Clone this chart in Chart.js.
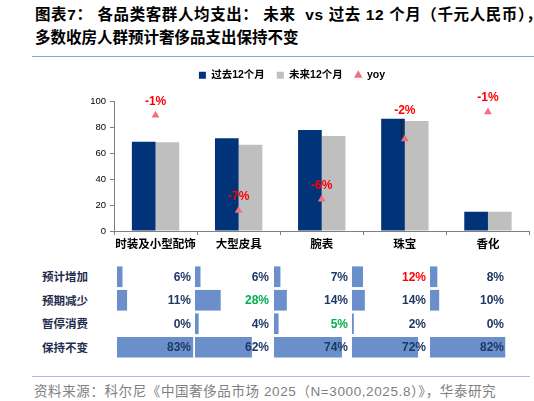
<!DOCTYPE html>
<html>
<head>
<meta charset="utf-8">
<script src="https://cdn.jsdelivr.net/npm/chart.js@4/dist/chart.umd.min.js"></script>
<style>
  html, body { margin: 0; padding: 0; background: #fff; }
  #page { position: relative; width: 534px; height: 401px; overflow: hidden; font-family: "Liberation Sans", "Noto Sans CJK SC", sans-serif; }
  .title { position: absolute; left: 35px; top: 3px; font-size: 15.5px; font-weight: bold; line-height: 23px; color: #000; white-space: nowrap; }
  .title .l1 { letter-spacing: 0.6px; }
  .rule { position: absolute; height: 1px; }
  #main-wrap { position: absolute; left: 0; top: 58px; width: 534px; height: 204px; }
  .col-wrap { position: absolute; top: 265px; width: 78px; height: 94px; }
  .row-label { position: absolute; left: 42px; font-size: 11.5px; font-weight: bold; color: #1f2d4d; line-height: 14px; white-space: nowrap; }
  .source { position: absolute; left: 34px; top: 380px; font-size: 13.5px; color: #808080; white-space: nowrap; letter-spacing: 0.6px; }
</style>
</head>
<body>
<div id="page">
  <div class="title"><span class="l1">图表7：&nbsp;各品类客群人均支出：&nbsp;未来&nbsp;&nbsp;vs&nbsp;过去&nbsp;12&nbsp;个月（千元人民币），</span><br>多数收房人群预计奢侈品支出保持不变</div>
  <div class="rule" style="left:32px; top:56px; width:502px; background:#8ea6cc;"></div>
  <div id="main-wrap"><canvas id="main-chart"></canvas></div>
  <div id="table-area"></div>
  <div class="rule" style="left:32px; top:376px; width:498px; background:#a9bdd9;"></div>
  <div class="source">资料来源：科尔尼《中国奢侈品市场 2025（N=3000,2025.8）》，华泰研究</div>
</div>
<script>
// Top chart: spend per customer by category (thousand RMB)
const categories = ['时装及小型配饰', '大型皮具', '腕表', '珠宝', '香化'];
const past12 = [68.7, 71.3, 77.7, 86.4, 14.9];
const next12 = [68.2, 66.4, 73.0, 84.6, 14.9];
const yoy = [-0.9, -6.9, -6.2, -2.4, -0.7];

// Bottom table: share of respondents (%)
const rowLabels = ['预计增加', '预期减少', '暂停消费', '保持不变'];
const planIncrease = [6, 6, 7, 12, 8];
const planDecrease = [11, 28, 14, 14, 10];
const pauseSpend = [0, 4, 5, 2, 0];
const keepSame = [83, 62, 74, 72, 82];

const NAVY = '#003378';
const GREY = '#bfbfbf';
const TRI = '#f2707e';
const TABLE_BAR = '#6a8fcb';
const TABLE_TEXT = '#1f3864';
const LATIN_CJK = '"Liberation Sans", "Noto Sans CJK SC", sans-serif';

// label gap above each yoy marker (the 珠宝 one sits above the bars with a leader line)
const yoyLabelGap = [14, 14, 14, 28, 14];

// Make room under the legend so the plot starts lower
const legendSpace = {
  id: 'legendSpace',
  beforeInit(chart) {
    const fit = chart.legend.fit;
    chart.legend.fit = function () {
      fit.bind(chart.legend)();
      this.height = 43;
    };
  },
};

// Red yoy labels above the triangles
const yoyLabels = {
  id: 'yoyLabels',
  afterDatasetsDraw(chart) {
    const ctx = chart.ctx;
    const meta = chart.getDatasetMeta(2);
    ctx.save();
    ctx.font = 'bold 12px "Liberation Sans", sans-serif';
    ctx.textAlign = 'center';
    ctx.textBaseline = 'middle';
    meta.data.forEach((pt, i) => {
      const gap = yoyLabelGap[i];
      if (gap > 20) {
        ctx.strokeStyle = '#1a1a1a';
        ctx.lineWidth = 1;
        ctx.beginPath();
        ctx.moveTo(pt.x - 3.5, pt.y - gap + 8);
        ctx.lineTo(pt.x - 3.5, pt.y - 2);
        ctx.stroke();
      }
      ctx.fillStyle = '#ff0000';
      ctx.fillText(Math.round(yoy[i]) + '%', pt.x, pt.y - gap);
    });
    ctx.restore();
  },
};

const mainChart = new Chart(document.getElementById('main-chart').getContext('2d'), {
  data: {
    labels: categories,
    datasets: [
      {
        type: 'bar',
        label: '过去12个月',
        data: past12,
        backgroundColor: NAVY,
        pointStyle: 'rect',
        categoryPercentage: 0.57,
        barPercentage: 1.0,
        order: 1,
      },
      {
        type: 'bar',
        label: '未来12个月',
        data: next12,
        backgroundColor: GREY,
        pointStyle: 'rect',
        categoryPercentage: 0.57,
        barPercentage: 1.0,
        order: 1,
      },
      {
        type: 'line',
        label: 'yoy',
        data: yoy,
        yAxisID: 'y2',
        showLine: false,
        pointStyle: 'triangle',
        pointRadius: 4.5,
        backgroundColor: TRI,
        borderColor: TRI,
        borderWidth: 0,
        order: 0,
      },
    ],
  },
  options: {
    responsive: true,
    maintainAspectRatio: false,
    animation: false,
    layout: { padding: { left: 50, right: 0, top: 0, bottom: 0 } },
    plugins: {
      legend: {
        display: true,
        position: 'top',
        labels: {
          usePointStyle: true,
          boxWidth: 7,
          boxHeight: 7,
          padding: 12,
          color: '#000',
          font: { family: LATIN_CJK, size: 10.5, weight: 'bold' },
          sort: (a, b) => a.datasetIndex - b.datasetIndex,
        },
      },
      tooltip: { enabled: false },
    },
    scales: {
      x: {
        grid: { drawOnChartArea: false, drawTicks: true, tickLength: 4, color: '#808080' },
        border: { color: '#808080' },
        ticks: {
          color: '#000',
          padding: 3,
          autoSkip: false,
          minRotation: 0,
          maxRotation: 0,
          font: { family: LATIN_CJK, size: 11.5, weight: 'bold' },
        },
        afterFit(scale) { scale.height = 31; },
      },
      y: {
        min: 0,
        max: 100,
        ticks: {
          stepSize: 10,
          color: '#000',
          padding: 4,
          font: { family: '"Liberation Sans", sans-serif', size: 9.5 },
        },
        grid: { drawOnChartArea: false, drawTicks: true, tickLength: 4, color: '#808080' },
        border: { color: '#808080' },
        afterFit(scale) { scale.width = 64; },
      },
      y2: {
        display: false,
        min: -8.2,
        max: 0,
      },
    },
  },
  plugins: [legendSpace, yoyLabels],
});

// Percent text drawn at the right end of each table column
const pctLabels = {
  id: 'pctLabels',
  afterDatasetsDraw(chart) {
    const ctx = chart.ctx;
    const meta = chart.getDatasetMeta(0);
    const colors = chart.options.plugins.pctLabels.colors;
    ctx.save();
    ctx.font = 'bold 12px "Liberation Sans", sans-serif';
    ctx.textAlign = 'right';
    ctx.textBaseline = 'middle';
    meta.data.forEach((bar, i) => {
      ctx.fillStyle = colors[i];
      ctx.fillText(chart.data.datasets[0].data[i] + '%', chart.chartArea.right - 4, bar.y + 0.5);
    });
    ctx.restore();
  },
};

const tableRows = [planIncrease, planDecrease, pauseSpend, keepSame];
// highest value per row: red for increase, green for decrease / pause
const rowHighlight = ['#ff0000', '#00b050', '#00b050', null];
const colLefts = [117, 195, 273.5, 352, 430];

const tableArea = document.getElementById('table-area');
const rowCenters = [277, 300.5, 324, 347.5];
rowLabels.forEach((label, r) => {
  const div = document.createElement('div');
  div.className = 'row-label';
  div.style.top = (rowCenters[r] - 7) + 'px';
  div.textContent = label;
  tableArea.appendChild(div);
});

categories.forEach((cat, c) => {
  const wrap = document.createElement('div');
  wrap.className = 'col-wrap';
  wrap.style.left = colLefts[c] + 'px';
  const canvas = document.createElement('canvas');
  wrap.appendChild(canvas);
  tableArea.appendChild(wrap);

  const values = tableRows.map((row) => row[c]);
  const colors = tableRows.map((row, r) => {
    const hl = rowHighlight[r];
    return hl && row[c] === Math.max(...row) ? hl : TABLE_TEXT;
  });

  new Chart(canvas.getContext('2d'), {
    type: 'bar',
    data: {
      labels: rowLabels,
      datasets: [
        {
          data: values,
          backgroundColor: TABLE_BAR,
          borderWidth: 0,
          barPercentage: 0.88,
          categoryPercentage: 1.0,
        },
      ],
    },
    options: {
      indexAxis: 'y',
      responsive: true,
      maintainAspectRatio: false,
      animation: false,
      layout: { padding: 0 },
      plugins: {
        legend: { display: false },
        tooltip: { enabled: false },
        pctLabels: { colors: colors },
      },
      scales: {
        x: { display: false, min: 0, max: 85 },
        y: { display: false },
      },
    },
    plugins: [pctLabels],
  });
});
</script>
</body>
</html>
